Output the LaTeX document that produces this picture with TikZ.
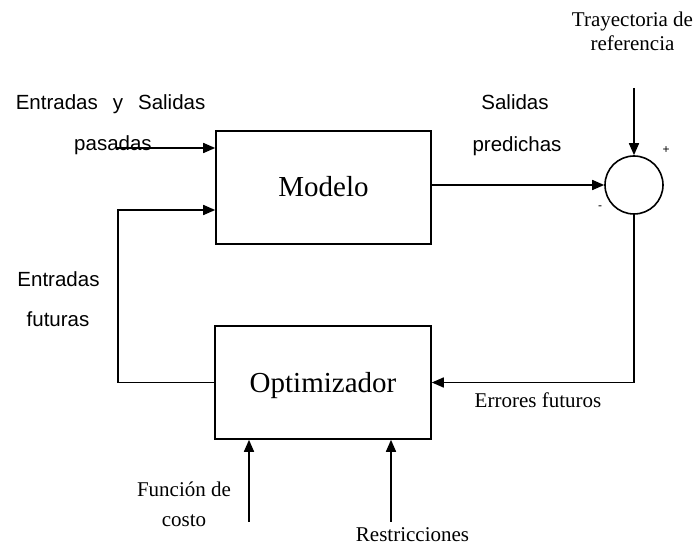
\documentclass[tikz,border=0pt]{standalone}
\usepackage{fontspec}
\setmainfont{Liberation Serif}
\setsansfont{Liberation Sans}
\usetikzlibrary{arrows.meta}
\begin{document}
\begin{tikzpicture}[x=1pt,y=1pt,
  line width=1.6pt,
  >={Triangle[length=12pt,width=10pt]},
  blockbox/.style={draw,rectangle,inner sep=0pt,font=\fontsize{29}{32}\selectfont},
  sumnode/.style={draw,circle,minimum size=58pt,inner sep=0pt},
  sanslbl/.style={font=\sffamily\fontsize{20.5}{24}\selectfont,anchor=base,inner sep=0pt},
  seriflbl/.style={font=\fontsize{21}{24}\selectfont,anchor=base,inner sep=0pt},
  signlbl/.style={font=\sffamily\fontsize{12}{14}\selectfont,inner sep=0pt}]
\useasboundingbox (0,0) rectangle (697,-545);
% blocks
\node[blockbox,minimum width=215pt,minimum height=113pt] (modelo) at (323.5,-187.5) {};
\node[font=\fontsize{29}{32}\selectfont,anchor=base,inner sep=0pt] (modelotxt) at (323.5,-197) {Modelo};
\node[blockbox,minimum width=216pt,minimum height=113pt] (opt) at (323,-382.5) {};
\node[font=\fontsize{29}{32}\selectfont,anchor=base,inner sep=0pt] (opttxt) at (323,-393) {Optimizador};
\node[sumnode] (sum) at (634,-185) {};
% free ends
\coordinate (in1) at (117,-148);
\coordinate (ref) at (634,-88);
\coordinate (fb) at (118,-210);
\coordinate (cost) at (249,-522);
\coordinate (restr) at (391,-522);
% connectors
\draw[->] (in1) -- (modelo.west |- in1);
\draw[->] (modelo.east |- sum) -- (sum.west);
\draw[->] (ref) -- (sum.north);
\draw[->] (sum.south) |- (opt.east);
\draw[->] (opt.west) -| (fb) -- (modelo.west |- fb);
\draw[->] (cost) -- (opt.south -| cost);
\draw[->] (restr) -- (opt.south -| restr);
% labels
\node[sanslbl,anchor=base west] (l1) at (15,-110) {Entradas\hspace{15pt}y\hspace{15pt}Salidas};
\node[sanslbl] (l2) at (113,-151) {pasadas};
\node[sanslbl] (l3) at (515,-110) {Salidas};
\node[sanslbl] (l4) at (517,-152) {predichas};
\node[sanslbl] (l5) at (58.5,-287) {Entradas};
\node[sanslbl] (l6) at (58,-327) {futuras};
\node[seriflbl] (l7) at (632.5,-27) {Trayectoria de};
\node[seriflbl] (l8) at (632.5,-51) {referencia};
\node[seriflbl] (l9) at (538,-408) {Errores futuros};
\node[seriflbl] (l10) at (184,-497) {Función de};
\node[seriflbl] (l11) at (184,-526) {costo};
\node[seriflbl] (l12) at (412.5,-541) {Restricciones};
\node[signlbl] (plus) at (666,-150) {+};
\node[signlbl] (minus) at (600,-208) {-};
\end{tikzpicture}
\end{document}
